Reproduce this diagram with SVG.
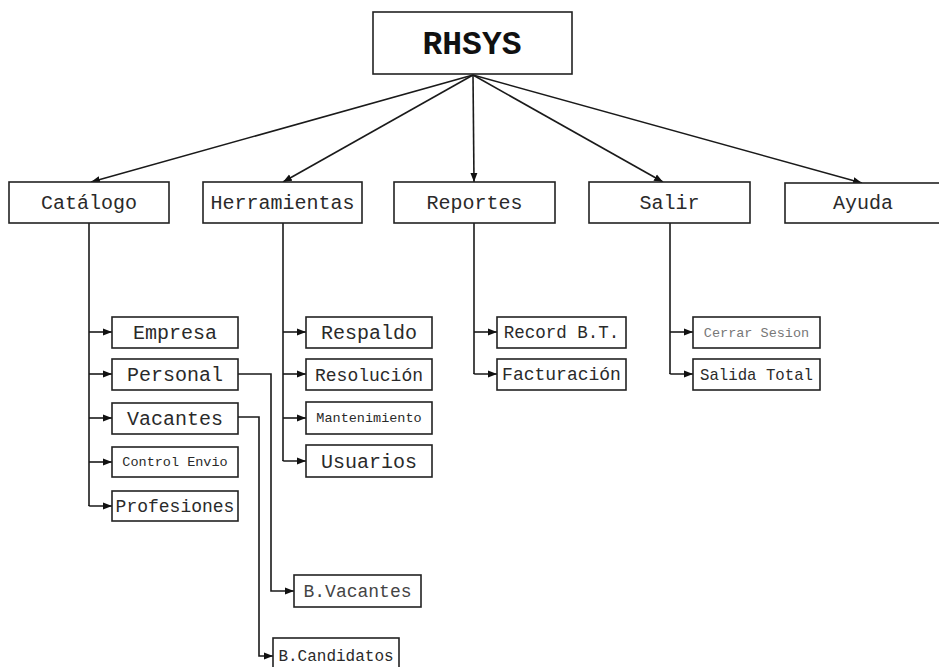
<svg xmlns="http://www.w3.org/2000/svg" width="939" height="667" viewBox="0 0 939 667">
<defs>
<marker id="ah" markerUnits="userSpaceOnUse" markerWidth="10" markerHeight="8" refX="9" refY="4" orient="auto">
<path d="M0,0.5 L9,4 L0,7.5 Z" fill="#111"/>
</marker>
<style>
.b{fill:#fff;stroke:#222;stroke-width:1.6}
.t{font-family:"Liberation Mono","Courier New",monospace;fill:#2a2a2a;text-anchor:middle}
.c{fill:none;stroke:#1a1a1a;stroke-width:1.6}
.a{marker-end:url(#ah)}
</style>
</defs>
<rect width="939" height="667" fill="#fff"/>

<g id="connectors">
<line class="c a" x1="473" y1="75" x2="91" y2="182"/>
<line class="c a" x1="473" y1="75" x2="283" y2="182"/>
<line class="c a" x1="473" y1="75" x2="474" y2="182"/>
<line class="c a" x1="473" y1="75" x2="663" y2="182"/>
<line class="c a" x1="473" y1="75" x2="862" y2="183"/>

<path class="c" d="M89,223 V506"/>
<line class="c a" x1="89" y1="332" x2="112" y2="332"/>
<line class="c a" x1="89" y1="374" x2="112" y2="374"/>
<line class="c a" x1="89" y1="418" x2="112" y2="418"/>
<line class="c a" x1="89" y1="462" x2="112" y2="462"/>
<path class="c a" d="M89,505 Q89,506 90,506 H112"/>

<path class="c" d="M283,223 V461"/>
<line class="c a" x1="283" y1="332" x2="306" y2="332"/>
<line class="c a" x1="283" y1="374" x2="306" y2="374"/>
<line class="c a" x1="283" y1="418" x2="306" y2="418"/>
<path class="c a" d="M283,460 Q283,461 284,461 H306"/>

<path class="c" d="M474,223 V374"/>
<line class="c a" x1="474" y1="332" x2="497" y2="332"/>
<path class="c a" d="M474,373 Q474,374 475,374 H497"/>

<path class="c" d="M670,223 V374"/>
<line class="c a" x1="670" y1="332" x2="693" y2="332"/>
<path class="c a" d="M670,373 Q670,374 671,374 H693"/>

<path class="c a" d="M238,374 H271 V591 H294"/>
<path class="c a" d="M238,417 H259 V656 H273"/>
</g>

<g id="rhsys">
<rect class="b" x="373" y="12" width="199" height="62"/>
<text class="t" x="472" y="54" font-size="33" font-weight="bold" fill="#111" style="fill:#111">RHSYS</text>
</g>

<g id="catalogo"><rect class="b" x="9" y="182" width="160" height="41"/><text class="t" x="89" y="209" font-size="20">Catálogo</text></g>
<g id="herramientas"><rect class="b" x="203" y="182" width="159" height="41"/><text class="t" x="282.5" y="209" font-size="20">Herramientas</text></g>
<g id="reportes"><rect class="b" x="394" y="182" width="161" height="41"/><text class="t" x="474.5" y="209" font-size="20">Reportes</text></g>
<g id="salir"><rect class="b" x="589" y="182" width="161" height="41"/><text class="t" x="669.5" y="209" font-size="20">Salir</text></g>
<g id="ayuda"><rect class="b" x="785" y="183" width="170" height="40"/><text class="t" x="863" y="209" font-size="20">Ayuda</text></g>

<g id="empresa"><rect class="b" x="112" y="317" width="126" height="31"/><text class="t" x="175" y="339" font-size="20">Empresa</text></g>
<g id="personal"><rect class="b" x="112" y="359" width="126" height="31"/><text class="t" x="175" y="381" font-size="20">Personal</text></g>
<g id="vacantes"><rect class="b" x="112" y="403" width="126" height="31"/><text class="t" x="175" y="425" font-size="20">Vacantes</text></g>
<g id="control-envio"><rect class="b" x="112" y="447" width="126" height="30"/><text class="t" x="175" y="466" font-size="13.5">Control Envio</text></g>
<g id="profesiones"><rect class="b" x="112" y="491" width="126" height="30"/><text class="t" x="175" y="512" font-size="18">Profesiones</text></g>

<g id="respaldo"><rect class="b" x="306" y="317" width="126" height="31"/><text class="t" x="369" y="339" font-size="20">Respaldo</text></g>
<g id="resolucion"><rect class="b" x="306" y="359" width="126" height="31"/><text class="t" x="369" y="381" font-size="18">Resolución</text></g>
<g id="mantenimiento"><rect class="b" x="306" y="402" width="126" height="32"/><text class="t" x="369" y="422" font-size="13.5">Mantenimiento</text></g>
<g id="usuarios"><rect class="b" x="306" y="445" width="126" height="32"/><text class="t" x="369" y="468" font-size="20">Usuarios</text></g>

<g id="record-bt"><rect class="b" x="497" y="317" width="129" height="31"/><text class="t" x="561.5" y="338" font-size="17.5">Record B.T.</text></g>
<g id="facturacion"><rect class="b" x="497" y="359" width="129" height="31"/><text class="t" x="561.5" y="380" font-size="18">Facturación</text></g>

<g id="cerrar-sesion"><rect class="b" x="693" y="317" width="127" height="31"/><text class="t" x="756.5" y="337" font-size="13.5" style="fill:#777">Cerrar Sesion</text></g>
<g id="salida-total"><rect class="b" x="693" y="359" width="127" height="31"/><text class="t" x="756.5" y="380" font-size="15.7">Salida Total</text></g>

<g id="b-vacantes"><rect class="b" x="294" y="575" width="127" height="32"/><text class="t" x="357.5" y="597" font-size="18" style="fill:#444">B.Vacantes</text></g>
<g id="b-candidatos"><rect class="b" x="273" y="638" width="126" height="34"/><text class="t" x="336" y="661" font-size="16">B.Candidatos</text></g>
</svg>
